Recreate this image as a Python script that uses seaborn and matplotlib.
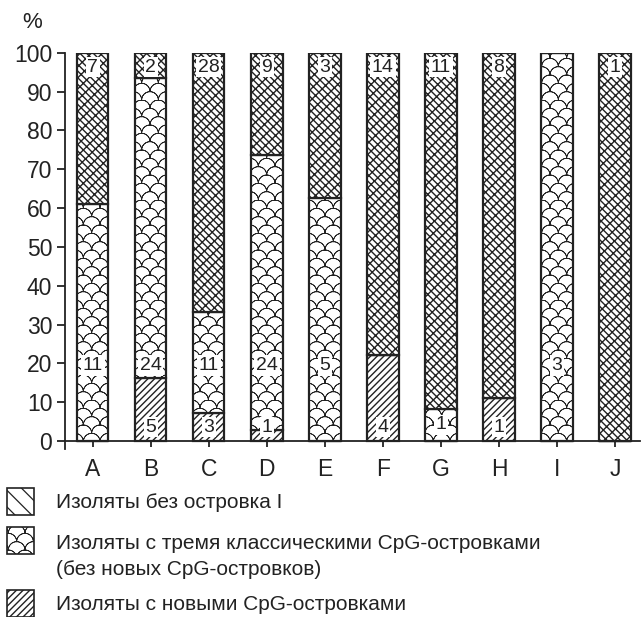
import numpy as np
import matplotlib
matplotlib.use("Agg")
import matplotlib.pyplot as plt
import matplotlib.hatch as mhatch
from matplotlib.path import Path
from matplotlib.patches import Rectangle
import seaborn as sns

groups = ["A", "B", "C", "D", "E", "F", "G", "H", "I", "J"]
n_new = [0, 5, 3, 1, 0, 4, 0, 1, 0, 0]
n_classic = [11, 24, 11, 24, 5, 0, 1, 0, 3, 0]
n_none = [7, 2, 28, 9, 3, 14, 11, 8, 0, 1]
legend_labels = ["Изоляты без островка I",
                 "Изоляты с тремя классическими CpG-островками\n(без новых CpG-островков)",
                 "Изоляты с новыми CpG-островками"]


class Scales(mhatch.HatchPatternBase):
    # fish-scale hatch, takes the place of the small circles 'o'
    def __init__(self, hatch, density):
        ncols = hatch.count("o") * 6
        parts = []
        self.half = 20
        if ncols:
            r = 0.5 / ncols
            t = np.linspace(0, np.pi, self.half)
            arc = np.column_stack([r * np.cos(t), r * np.sin(t)])
            # arc there and back as two subpaths, so the fill cancels
            arc = np.concatenate([arc, arc[::-1]])
            for row in range(2 * ncols + 1):
                if row % 2 == 0:
                    cols = np.arange(ncols + 1) / ncols
                else:
                    cols = (np.arange(ncols) + 0.5) / ncols
                for c in cols:
                    parts.append(arc + [c, row * r])
        self.verts = np.concatenate(parts) if parts else np.empty((0, 2))
        self.num_vertices = len(self.verts)

    def set_vertices_and_codes(self, vertices, codes):
        vertices[:] = self.verts
        codes[:] = Path.LINETO
        codes[::self.half] = Path.MOVETO


mhatch._hatch_types[mhatch._hatch_types.index(mhatch.SmallCircles)] = Scales

sns.set_style("ticks")
plt.rcParams["font.family"] = ["Liberation Sans", "DejaVu Sans"]
ink = "#222222"

tot = np.array(n_new) + np.array(n_classic) + np.array(n_none)
p_new = 100 * np.array(n_new) / tot
p_classic = 100 * np.array(n_classic) / tot
p_none = 100 * np.array(n_none) / tot

fig = plt.figure(figsize=(6.42, 6.17), dpi=100)
ax = fig.add_axes([0.101, 0.272, 0.896, 0.6426])

layers = [(p_new, 0, "/////", 1.0),
          (p_classic, p_new, "o", 0.55),
          (p_none, p_new + p_classic, "\\" * 5 + "///", 1.0)]
for vals, bot, hatch, hlw in layers:
    plt.rcParams["hatch.linewidth"] = hlw
    n0 = len(ax.patches)
    sns.barplot(x=groups, y=vals, bottom=bot, color="white", saturation=1,
                edgecolor=ink, linewidth=1.6, hatch=hatch, width=0.54, ax=ax)
    for p in ax.patches[n0:]:
        if hasattr(p, "set_hatch_linewidth"):
            p.set_hatch_linewidth(hlw)

lab = dict(ha="center", va="center", fontsize=14, color=ink,
           bbox=dict(facecolor="white", edgecolor="none", pad=1.2))
for i in range(len(groups)):
    if n_none[i]:
        ax.text(i, 96.3, str(n_none[i]), **lab)
    if n_classic[i]:
        mid = p_new[i] + p_classic[i] / 2
        ax.text(i, min(19.5, mid), str(n_classic[i]), **lab)
    if n_new[i]:
        y = 19.0 if (n_classic[i] == 0 and p_new[i] > 23) else 3.6
        ax.text(i, y, str(n_new[i]), **lab)

ax.set_xlim(-0.48, 9.43)
ax.set_ylim(-2.1, 100)
ax.set_yticks(range(0, 101, 10))
ax.spines["bottom"].set_position(("data", 0))
ax.spines["top"].set_visible(False)
ax.spines["right"].set_visible(False)
for s in ["left", "bottom"]:
    ax.spines[s].set_color(ink)
    ax.spines[s].set_linewidth(1.3)
ax.tick_params(axis="y", length=6, width=1.3, pad=3, labelsize=16.5, color=ink, labelcolor=ink)
ax.tick_params(axis="x", length=4, width=1.3, pad=8, labelsize=16.5, color=ink, labelcolor=ink)
ax.set_xlabel("")
ax.set_ylabel("")
fig.text(0.05, 0.964, "%", fontsize=16, color=ink, ha="center", va="center")

# legend drawn by hand: hatch square + label
leg_hatch = [("\\\\", 0.9), ("o", 0.55), ("/////", 1.0)]
box_y = [501, 540, 604]
text_y = [502, 556.5, 605]
for (h, hlw), by, ty, txt in zip(leg_hatch, box_y, text_y, legend_labels):
    plt.rcParams["hatch.linewidth"] = hlw
    box = Rectangle((7 / 642, 1 - (by + 13.5) / 617), 27 / 642, 27 / 617,
                    transform=fig.transFigure, facecolor="white",
                    edgecolor=ink, linewidth=1.2, hatch=h)
    if hasattr(box, "set_hatch_linewidth"):
        box.set_hatch_linewidth(hlw)
    fig.add_artist(box)
    fig.text(56 / 642, 1 - ty / 617, txt, fontsize=15, color=ink, va="center",
             linespacing=1.45, transform=fig.transFigure)

fig.savefig("out.png", dpi=100)
